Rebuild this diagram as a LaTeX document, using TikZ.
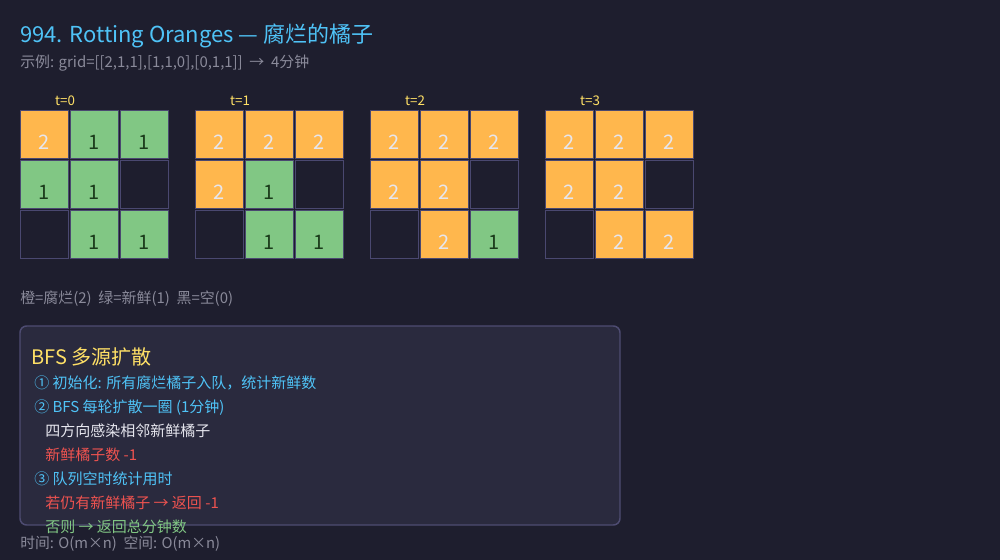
\documentclass[tikz,border=0pt]{standalone}
\usepackage{fontspec}
\setmainfont{Noto Sans CJK SC}
\usetikzlibrary{positioning}
\definecolor{bgdark}{HTML}{1E1E2E}
\definecolor{titleblue}{HTML}{4FC3F7}
\definecolor{mutedgray}{HTML}{8A8A9A}
\definecolor{rotorange}{HTML}{FFB74D}
\definecolor{freshgreen}{HTML}{81C784}
\definecolor{cellline}{HTML}{4A4870}
\definecolor{panelfill}{HTML}{2A2A3E}
\definecolor{panelline}{HTML}{4E4C72}
\definecolor{labelyellow}{HTML}{FFE066}
\definecolor{softwhite}{HTML}{E6E6EE}
\definecolor{warnred}{HTML}{EF5350}
\definecolor{darkdigit}{HTML}{1B3B1B}
\tikzset{
	>=latex,
	cellbase/.style={draw=cellline, line width=1.1pt, minimum size=36pt, inner sep=0pt, font=\fontsize{15}{15}\selectfont},
	cell0/.style={cellbase, fill=bgdark},
	cell1/.style={cellbase, fill=freshgreen, text=darkdigit},
	cell2/.style={cellbase, fill=rotorange, text=softwhite},
	txt/.style={anchor=base west, inner sep=0pt},
	steplabel/.style={anchor=base, inner sep=0pt, text=labelyellow, font=\fontsize{10}{10}\selectfont},
	panel/.style={draw=panelline, fill=panelfill, line width=1.1pt, rounded corners=5pt}
}

\begin{document}
\begin{tikzpicture}[x=0.75pt, y=-0.75pt]
	\fill[bgdark] (0,0) rectangle (1000,560);
	\useasboundingbox (0,0) rectangle (1000,560);
	% title and example
	\node[txt, text=titleblue, font=\fontsize{16.5}{16.5}\selectfont] (title) at (20,43) {994. Rotting Oranges — 腐烂的橘子};
	\node[txt, text=mutedgray, font=\fontsize{11.2}{11.2}\selectfont] (example) at (20,68) {示例: grid=[[2,1,1],[1,1,0],[0,1,1]] \ → \ 4分钟};
	% the four grids, one per minute
	\foreach \t/\vals in {0/{2,1,1,1,1,0,0,1,1}, 1/{2,2,2,2,1,0,0,1,1}, 2/{2,2,2,2,2,0,0,2,1}, 3/{2,2,2,2,2,0,0,2,2}} {
		\node[steplabel] (lbl\t) at (20+175*\t+45,105) {t=\t};
		\foreach \v [count=\i from 0] in \vals {
			\pgfmathtruncatemacro{\r}{\i/3}
			\pgfmathtruncatemacro{\c}{\i-3*\r}
			\node[cell\v] (g\t-\r-\c) at (20+175*\t+50*\c+24.5, 110+50*\r+24.5) {\smash{\raisebox{-11pt}{\ifnum\v=0\else\v\fi}}};
		}
	}
	\node[txt, text=mutedgray, font=\fontsize{11.2}{11.2}\selectfont] (legend) at (20,303) {橙=腐烂(2) \ 绿=新鲜(1) \ 黑=空(0)};
	% BFS panel
	\draw[panel] (20,326) rectangle (620,525);
	\node[txt, text=labelyellow, font=\fontsize{15}{15}\selectfont] (bfs) at (31,364) {BFS 多源扩散};
	\node[txt, text=titleblue, font=\fontsize{11.25}{11.25}\selectfont] (s1) at (34,388) {① 初始化: 所有腐烂橘子入队，统计新鲜数};
	\node[txt, text=titleblue, font=\fontsize{11.25}{11.25}\selectfont] (s2) at (34,412) {② BFS 每轮扩散一圈 (1分钟)};
	\node[txt, text=softwhite, font=\fontsize{11.25}{11.25}\selectfont] (s2a) at (45,436) {四方向感染相邻新鲜橘子};
	\node[txt, text=warnred, font=\fontsize{11.25}{11.25}\selectfont] (s2b) at (45,460) {新鲜橘子数 -1};
	\node[txt, text=titleblue, font=\fontsize{11.25}{11.25}\selectfont] (s3) at (34,484) {③ 队列空时统计用时};
	\node[txt, text=warnred, font=\fontsize{11.25}{11.25}\selectfont] (s3a) at (45,508) {若仍有新鲜橘子 → 返回 -1};
	\node[txt, text=freshgreen, font=\fontsize{11.25}{11.25}\selectfont] (s3b) at (45,532) {否则 → 返回总分钟数};
	\node[txt, text=mutedgray, font=\fontsize{11.1}{11.1}\selectfont] (cost) at (20,548) {时间: O(m×n) \ 空间: O(m×n)};
\end{tikzpicture}
\end{document}
